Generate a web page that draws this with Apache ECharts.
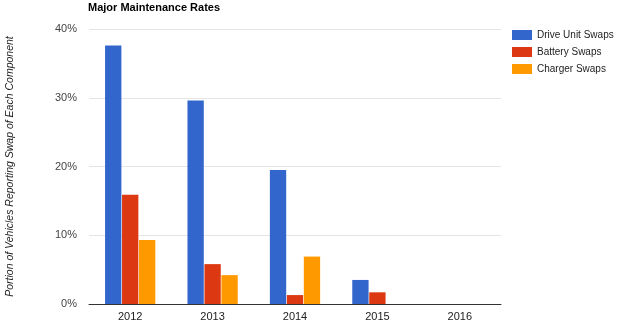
<!DOCTYPE html>
<html><head><meta charset="utf-8">
<script src="https://cdn.jsdelivr.net/npm/echarts@6/dist/echarts.min.js"></script>
<style>html,body{margin:0;padding:0;background:#fff}#c{width:620px;height:329px}</style>
</head><body><div id="c"></div>
<script>
const categories = ['2012','2013','2014','2015','2016'];
const driveUnit = [37.6, 29.6, 19.5, 3.5, 0];
const battery = [15.9, 5.8, 1.3, 1.7, 0];
const charger = [9.3, 4.2, 6.9, 0, 0];
const seriesNames = ['Drive Unit Swaps','Battery Swaps','Charger Swaps'];
const colors = ['#3366cc','#dc3912','#ff9900'];

const chart = echarts.init(document.getElementById('c'));
chart.setOption({
  animation: false,
  color: colors,
  title: {text: 'Major Maintenance Rates', left: 83, top: -3,
    textStyle: {fontFamily: 'Arial, Liberation Sans', fontSize: 11, fontWeight: 'bold', color: '#000'}},
  legend: {orient: 'vertical', left: 507, top: 25, itemWidth: 20, itemHeight: 10, itemGap: 7,
    icon: 'rect', data: seriesNames,
    textStyle: {fontFamily: 'Arial, Liberation Sans', fontSize: 10, color: '#222'}},
  grid: {left: 89, right: 119, top: 29, bottom: 25, outerBoundsMode: 'none', containLabel: false},
  xAxis: {type: 'category', data: categories,
    axisLine: {lineStyle: {color: '#333'}}, axisTick: {show: false},
    axisLabel: {color: '#222', fontFamily: 'Arial, Liberation Sans', fontSize: 11, margin: 7}},
  yAxis: {type: 'value', min: 0, max: 40, interval: 10,
    name: 'Portion of Vehicles Reporting Swap of Each Component',
    nameLocation: 'middle', nameGap: 73, nameRotate: 90,
    nameTextStyle: {fontFamily: 'Arial, Liberation Sans', fontSize: 10.5, fontStyle: 'italic', color: '#222'},
    axisLabel: {formatter: '{value}%', color: '#444', fontFamily: 'Arial, Liberation Sans', fontSize: 11, margin: 12},
    splitLine: {lineStyle: {color: '#e4e4e4'}}},
  series: [
    {name: seriesNames[0], type: 'bar', data: driveUnit, barGap: '4%', barCategoryGap: '39%'},
    {name: seriesNames[1], type: 'bar', data: battery, barGap: '4%', barCategoryGap: '39%'},
    {name: seriesNames[2], type: 'bar', data: charger, barGap: '4%', barCategoryGap: '39%'}
  ]
});
</script></body></html>
